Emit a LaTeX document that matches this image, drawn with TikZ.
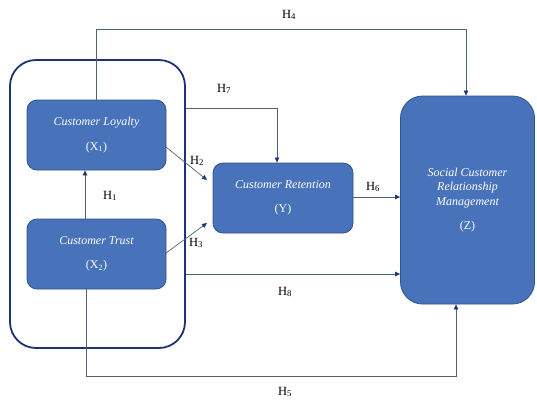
\documentclass[tikz,border=0pt]{standalone}
\usepackage{fontspec}
\setmainfont{Liberation Serif}
\usetikzlibrary{arrows.meta}
\definecolor{boxfill}{RGB}{72,114,186}
\definecolor{boxline}{RGB}{47,82,143}
\definecolor{outerline}{RGB}{28,52,115}
\definecolor{conn}{RGB}{80,96,120}
\definecolor{tipc}{RGB}{30,55,110}
\tikzset{
  var/.style={draw=boxline, line width=0.8pt, fill=boxfill, rounded corners=10pt,
    text=white, font=\fontsize{12}{14.5}\selectfont\itshape, align=center, inner sep=0pt},
  arr/.style={draw=conn, line width=0.7pt, -{Triangle[length=5pt,width=4.5pt,fill=tipc,color=tipc]}},
  lab/.style={font=\fontsize{12.5}{14}\selectfont, text=black, inner sep=1pt}
}
\begin{document}
\begin{tikzpicture}[x=1pt,y=-1pt]
\useasboundingbox (0,0) rectangle (537,399);
% outer group box
\node[draw=outerline, line width=1.8pt, rounded corners=26pt, minimum width=175pt, minimum height=288pt, inner sep=0pt] (outer) at (97.5,204) {};
% variable boxes
\node[var, minimum width=139pt, minimum height=70pt] (loyal) at (96.5,135) {Customer Loyalty\\[10pt]\upshape (X\textsubscript{1})};
\node[var, minimum width=139pt, minimum height=70pt] (trust) at (96.5,254) {Customer Trust\\[10pt]\upshape (X\textsubscript{2})};
\node[var, minimum width=140pt, minimum height=70pt] (ret) at (283,198) {Customer Retention\\[10pt]\upshape (Y)};
\node[var, rounded corners=22pt, minimum width=134pt, minimum height=208pt] (z) at (467.5,200) {Social Customer\\Relationship\\Management\\[10pt]\upshape (Z)};
% helper coordinates
\coordinate (h1x) at (85,0);
\coordinate (h4a) at (96,29);
\coordinate (h4b) at (466,29);
\coordinate (h7a) at (277,108);
\coordinate (h2s) at (166,147);
\coordinate (h2e) at (207,180);
\coordinate (h3s) at (166,253);
\coordinate (h3e) at (207,223);
\coordinate (h6) at (0,197);
\coordinate (h8) at (0,274);
\coordinate (h5a) at (86,376);
\coordinate (h5b) at (456,376);
% connectors
\draw[arr] (trust.north -| h1x) -- (loyal.south -| h1x);
\draw[arr] (loyal.north -| h4a) -- (h4a) -- (h4b) -- (z.north -| h4b);
\draw[arr] (outer.east |- h7a) -- (h7a) -- (ret.north -| h7a);
\draw[arr] (h2s) -- (h2e);
\draw[arr] (h3s) -- (h3e);
\draw[arr] (ret.east |- h6) -- (z.west |- h6);
\draw[arr] (outer.east |- h8) -- (z.west |- h8);
\draw[arr] (trust.south -| h5a) -- (h5a) -- (h5b) -- (z.south -| h5b);
% labels
\node[lab] (l1) at (110,196) {H\textsubscript{1}};
\node[lab] (l2) at (197,161) {H\textsubscript{2}};
\node[lab] (l3) at (196,243) {H\textsubscript{3}};
\node[lab] (l4) at (289,15) {H\textsubscript{4}};
\node[lab] (l5) at (285,392) {H\textsubscript{5}};
\node[lab] (l6) at (373,187) {H\textsubscript{6}};
\node[lab] (l7) at (224,89) {H\textsubscript{7}};
\node[lab] (l8) at (285,292) {H\textsubscript{8}};
\end{tikzpicture}
\end{document}
